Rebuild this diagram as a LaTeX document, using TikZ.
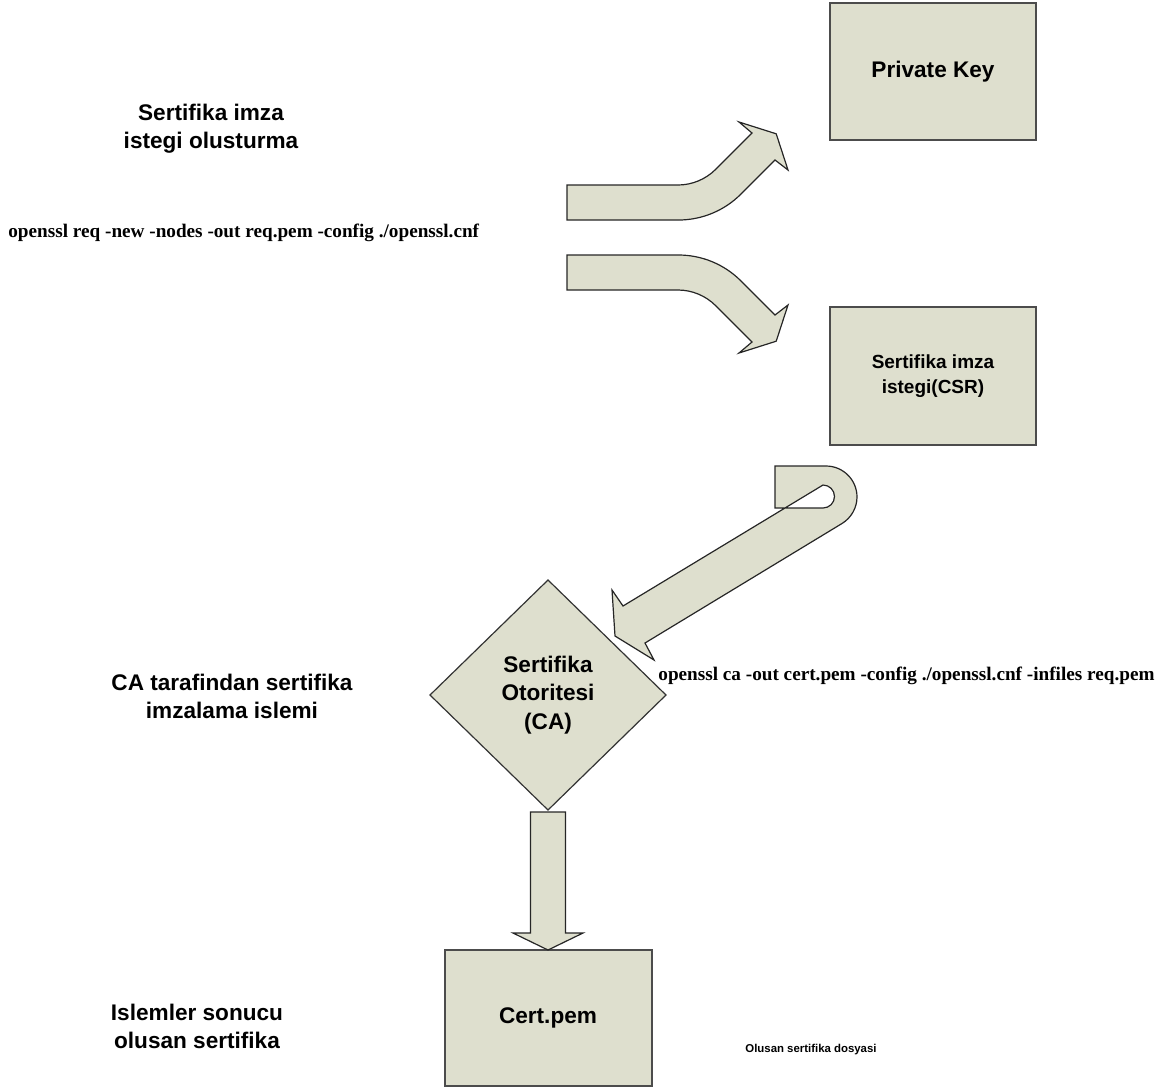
\documentclass[tikz,border=0pt]{standalone}
\usepackage{fontspec}
\setmainfont{Liberation Sans}
\newfontfamily\codefont{Liberation Serif}
\usepackage{tikz}
\usetikzlibrary{shapes.geometric,calc}
\definecolor{boxfill}{RGB}{222,223,206}

\begin{document}
\begin{tikzpicture}[
		x=0.5pt, y=-0.5pt,
		box/.style={draw=black!70, line width=1pt, fill=boxfill, align=center, inner sep=0pt, outer sep=0pt},
		blockarrow/.style={draw=black!85, line width=0.6pt, fill=boxfill},
		steplabel/.style={font=\bfseries\fontsize{11.3}{14}\selectfont, align=center},
		cmd/.style={font=\codefont\bfseries\fontsize{9.6}{11}\selectfont, anchor=west, inner sep=0pt}
		]
		\useasboundingbox (0,0) rectangle (1162,1089);
		
		% Left column
		\node[steplabel] (step1) at (211,129) {Sertifika imza\\istegi olusturma};
		\node[steplabel] (step2) at (232,696) {CA tarafindan sertifika\\imzalama islemi};
		\node[steplabel] (step3) at (197,1026) {Islemler sonucu\\olusan sertifika};
		
		% Commands
		\node[cmd] (reqcmd) at (8,233) {openssl req -new -nodes -out req.pem -config ./openssl.cnf};
		\node[cmd] (cacmd) at (658,676) {openssl ca -out cert.pem -config ./openssl.cnf -infiles req.pem};
		\node[font=\bfseries\fontsize{5.7}{7}\selectfont] (certnote) at (811,1050) {Olusan sertifika dosyasi};
		
		% Boxes
		\node[box, minimum width=103pt, minimum height=68.5pt, font=\bfseries\fontsize{11.3}{14}\selectfont] (pkey) at (933,71.5) {Private Key};
		\node[box, minimum width=103pt, minimum height=69pt, font=\bfseries\fontsize{9.5}{12.5}\selectfont] (csr) at (933,376) {Sertifika imza\\istegi(CSR)};
		\node[box, diamond, draw=black!80, line width=0.6pt, minimum width=118pt, minimum height=115pt, font=\bfseries\fontsize{11.3}{14.2}\selectfont] (ca) at (548,695) {Sertifika\\Otoritesi\\(CA)};
		\node[box, minimum width=103.5pt, minimum height=68pt, font=\bfseries\fontsize{11.3}{14}\selectfont] (cert) at (548,1018) {Cert.pem};
		
		% Block arrows
		\draw[blockarrow] (567,185) -- (678,185) .. controls (692,185) and (705.7,179.3) .. (715.6,169.4) -- (752,133) -- (739,122) -- (776.2,133.8) -- (788,170) -- (775,160) -- (740.8,194.2) .. controls (724.3,210.7) and (701.8,220) .. (678.5,220) -- (567,220) -- cycle;
		\draw[blockarrow] (567,255) -- (678.5,255) .. controls (701.8,255) and (724.3,264.3) .. (740.8,280.8) -- (775,315) -- (788,305) -- (776.2,341.2) -- (739,353) -- (752,342) -- (715.6,305.6) .. controls (705.7,295.7) and (692,290) .. (678,290) -- (567,290) -- cycle;
		
		\draw[blockarrow, even odd rule] (775,466) -- (826,466) .. controls (843.1,466) and (857,479.9) .. (857,497) .. controls (857,507.8) and (851.2,517.9) .. (842,523.5) -- (645,643) -- (654,660) -- (615,636) -- (612,590) -- (623,606) -- (823,485) .. controls (829.35,485) and (834.5,490.15) .. (834.5,496.5) .. controls (834.5,502.85) and (829.35,508) .. (823,508) -- (775,508) -- cycle;
		
		\draw[blockarrow] ($(ca.south)+(-17.5,2)$) -- ($(cert.north)+(-17.5,-17)$) -- ($(cert.north)+(-35,-17)$) -- (cert.north) -- ($(cert.north)+(35,-17)$) -- ($(cert.north)+(17.5,-17)$) -- ($(ca.south)+(17.5,2)$) -- cycle;
		
	\end{tikzpicture}
\end{document}
